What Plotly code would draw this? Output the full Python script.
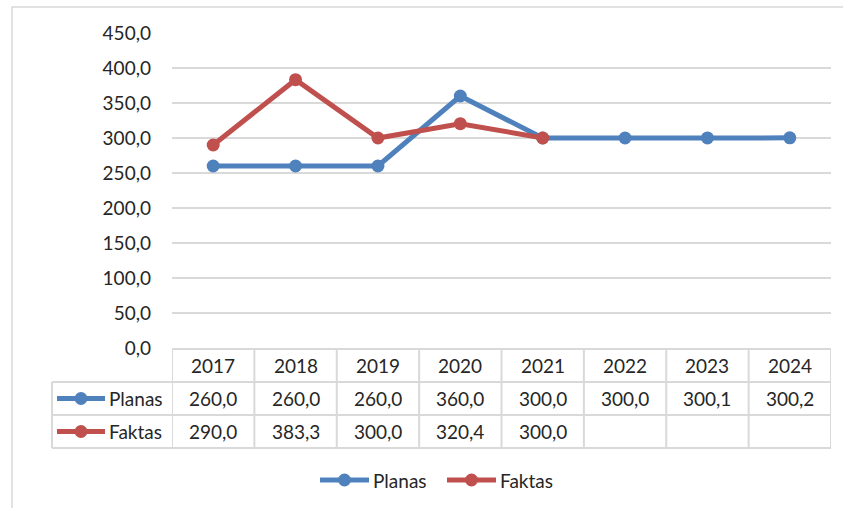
import plotly.graph_objects as go

years = ["2017", "2018", "2019", "2020", "2021", "2022", "2023", "2024"]
planas = [260.0, 260.0, 260.0, 360.0, 300.0, 300.0, 300.1, 300.2]
faktas = [290.0, 383.3, 300.0, 320.4, 300.0, None, None, None]
series_names = ["Planas", "Faktas"]
series_colors = ["#4F81BD", "#C0504D"]
y_ticks = [0, 50, 100, 150, 200, 250, 300, 350, 400, 450]

W, H = 843, 508
L, R, T, B = 172, 12, 33, 160
PW, PH = W - L - R, H - T - B
FONT = "Lato"
FS = 19
TXT = "#262626"
GRID = "#D9D9D9"


def px_x(x):
    return (x - L) / PW


def px_y(y):
    return (H - B - y) / PH


def fmt(v):
    return "" if v is None else f"{v:.1f}".replace(".", ",")


fig = go.Figure()
for name, vals, col in zip(series_names, [planas, faktas], series_colors):
    fig.add_trace(go.Scatter(
        x=years, y=vals, name=name, mode="lines+markers",
        line=dict(color=col, width=5), marker=dict(color=col, size=13),
        showlegend=False, connectgaps=False,
    ))

shapes = []
annotations = []

# outer chart frame
shapes.append(dict(type="rect", xref="paper", yref="paper",
                   x0=px_x(12), x1=px_x(860), y0=px_y(7), y1=px_y(530),
                   line=dict(color=GRID, width=1.5), layer="below"))

# data table grid
row_tops = [349, 382, 415, 448]
n = len(years)
shapes.append(dict(type="line", xref="x", yref="paper", x0=-0.5, x1=n - 0.5,
                   y0=px_y(row_tops[0]), y1=px_y(row_tops[0]), line=dict(color=GRID, width=2)))
for yy in row_tops[1:]:
    shapes.append(dict(type="line", xref="paper", yref="paper", x0=px_x(52), x1=1,
                       y0=px_y(yy), y1=px_y(yy), line=dict(color=GRID, width=2)))
for i in range(n + 1):
    shapes.append(dict(type="line", xref="x", yref="paper", x0=i - 0.5, x1=i - 0.5,
                       y0=px_y(row_tops[0]), y1=px_y(row_tops[-1]), line=dict(color=GRID, width=2)))
shapes.append(dict(type="line", xref="paper", yref="paper", x0=px_x(52), x1=px_x(52),
                   y0=px_y(row_tops[1]), y1=px_y(row_tops[-1]), line=dict(color=GRID, width=2)))

row_centers = [(row_tops[k] + row_tops[k + 1]) / 2 for k in range(3)]
for i, yr in enumerate(years):
    annotations.append(dict(x=i, y=px_y(row_centers[0]), xref="x", yref="paper", text=yr,
                            xanchor="center", yanchor="middle", showarrow=False,
                            font=dict(family=FONT, size=FS, color=TXT)))
for k, vals in enumerate([planas, faktas]):
    for i, v in enumerate(vals):
        if v is None:
            continue
        annotations.append(dict(x=i, y=px_y(row_centers[k + 1]), xref="x", yref="paper",
                                text=fmt(v), xanchor="center", yanchor="middle",
                                showarrow=False, font=dict(family=FONT, size=FS, color=TXT)))


def legend_key(xl, xr, yc, col):
    shapes.append(dict(type="line", xref="paper", yref="paper", x0=px_x(xl), x1=px_x(xr),
                       y0=px_y(yc), y1=px_y(yc), line=dict(color=col, width=5)))
    cx = (xl + xr) / 2
    shapes.append(dict(type="circle", xref="paper", yref="paper", xsizemode="pixel",
                       ysizemode="pixel", xanchor=px_x(cx), yanchor=px_y(yc),
                       x0=-6.5, x1=6.5, y0=-6.5, y1=6.5,
                       fillcolor=col, line=dict(color=col, width=0)))


# row keys in the table
for k, (name, col) in enumerate(zip(series_names, series_colors)):
    yc = row_centers[k + 1]
    legend_key(57, 105, yc, col)
    annotations.append(dict(x=px_x(107), y=px_y(yc), xref="paper", yref="paper", text=name,
                            xanchor="left", yanchor="middle", showarrow=False,
                            font=dict(family=FONT, size=FS, color=TXT)))

# bottom legend
leg_pos = [(320, 369), (447, 496)]
for (xl, xr), name, col in zip(leg_pos, series_names, series_colors):
    legend_key(xl, xr, 480, col)
    annotations.append(dict(x=px_x(xr + 2), y=px_y(480), xref="paper", yref="paper", text=name,
                            xanchor="left", yanchor="middle", showarrow=False,
                            font=dict(family=FONT, size=FS, color=TXT)))

fig.update_layout(
    width=W, height=H, margin=dict(l=L, r=R, t=T, b=B),
    paper_bgcolor="white", plot_bgcolor="white",
    separators=",.",
    font=dict(family=FONT, size=FS, color=TXT),
    shapes=shapes, annotations=annotations,
    xaxis=dict(type="category", categoryorder="array", categoryarray=years,
               range=[-0.5, n - 0.5], showticklabels=False, showgrid=False,
               zeroline=False, showline=False, ticks=""),
    yaxis=dict(range=[0, 450], tickvals=y_ticks, tickformat=".1f", showgrid=True,
               gridcolor=GRID, gridwidth=1.5, zeroline=False, showline=False,
               ticks="", ticklabelstandoff=20,
               tickfont=dict(family=FONT, size=FS, color=TXT)),
)

fig.write_html(
    "out.html",
    config={"displayModeBar": False},
    post_script="document.body.style.margin='0';document.body.style.overflow='hidden';",
)
